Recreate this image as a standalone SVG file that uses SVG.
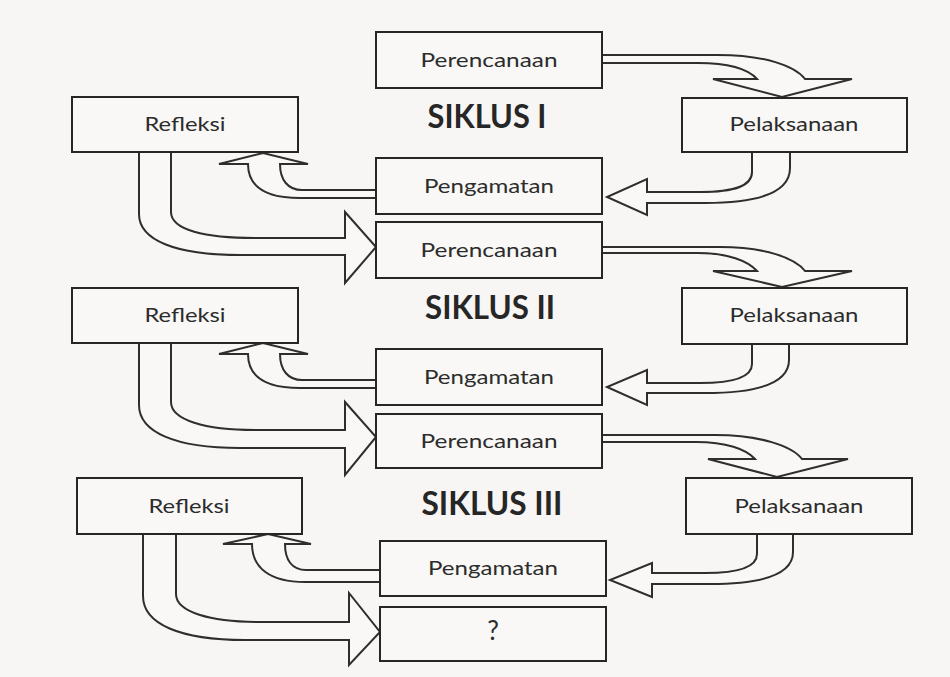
<svg xmlns="http://www.w3.org/2000/svg" width="950" height="677" viewBox="0 0 950 677">
<style>
.bg{fill:#f7f6f4}
.box{fill:#f9f8f6;stroke:#262626;stroke-width:2}
.arr{fill:#f9f8f6;stroke:#2e2e2e;stroke-width:2;stroke-linejoin:miter}
.lbl{font-family:Lato,"Open Sans","Liberation Sans",sans-serif;font-size:20px;fill:#2c2c2c;text-anchor:middle}
.cyc{font-family:Lato,"Open Sans","Liberation Sans",sans-serif;font-size:32px;font-weight:bold;fill:#262626;text-anchor:middle}
</style>
<rect class="bg" x="0" y="0" width="950" height="677"/>
<g id="connectors">
<path class="arr" d="M602,55 L718,55 C765,55 795,66 805,79 L852,79 L782,97 L713,79 L757,79 C748,69 728,63 698,63 L602,63 Z"/>
<path class="arr" d="M752,152 L752,172 C752,186 735,192 700,192 L647,192 L647,179 L607,197 L647,215 L647,203 L705,203 C765,203 790,190 790,168 L790,152 Z"/>
<path class="arr" d="M376,190 L302,190 C288,190 280,180 280,164 L308,164 L263,153 L219,164 L248,164 C248,187 266,198 300,198 L376,198 Z"/>
<path class="arr" d="M139,152 L139,214 C139,240 175,255 240,255 L345,255 L345,283 L376,247 L345,212 L345,238 L255,238 C205,238 171,230 171,212 L171,152 Z"/>
<path class="arr" d="M602,247 L720,247 C765,247 795,258 805,271 L852,271 L782,287 L713,271 L757,271 C748,261 728,253 698,253 L602,253 Z"/>
<path class="arr" d="M752,344 L752,364 C752,377 735,383 700,383 L647,383 L647,370 L607,387 L647,405 L647,393 L705,393 C765,393 789,381 789,360 L789,344 Z"/>
<path class="arr" d="M376,380 L302,380 C288,380 280,370 280,354 L308,354 L263,343 L219,354 L248,354 C248,377 266,388 300,388 L376,388 Z"/>
<path class="arr" d="M139,343 L139,405 C139,432 175,448 240,448 L345,448 L345,475 L376,437 L345,402 L345,430 L255,430 C205,430 171,420 171,402 L171,343 Z"/>
<path class="arr" d="M602,435 L715,435 C760,435 792,446 802,459 L848,459 L777,477 L708,459 L755,459 C746,449 726,442 696,442 L602,442 Z"/>
<path class="arr" d="M757,534 L757,554 C757,567 740,573 705,573 L652,573 L652,563 L610,580 L652,597 L652,584 L710,584 C770,584 793,572 793,552 L793,534 Z"/>
<path class="arr" d="M380,570 L306,570 C292,570 285,560 285,544 L311,544 L268,534 L223,544 L252,544 C252,568 270,582 305,582 L380,582 Z"/>
<path class="arr" d="M143,534 L143,596 C143,624 180,640 245,640 L349,640 L349,665 L380,632 L349,593 L349,622 L260,622 C210,622 176,612 176,594 L176,534 Z"/>
</g>
<g id="perencanaan1"><rect class="box" x="376" y="32" width="226" height="56"/><text class="lbl" x="489" y="67" textLength="137" lengthAdjust="spacingAndGlyphs">Perencanaan</text></g>
<g id="refleksi1"><rect class="box" x="72" y="97" width="226" height="55"/><text class="lbl" x="185" y="131" textLength="81" lengthAdjust="spacingAndGlyphs">Refleksi</text></g>
<g id="pelaksanaan1"><rect class="box" x="682" y="98" width="225" height="54"/><text class="lbl" x="794" y="131" textLength="129" lengthAdjust="spacingAndGlyphs">Pelaksanaan</text></g>
<g id="pengamatan1"><rect class="box" x="376" y="158" width="226" height="56"/><text class="lbl" x="489" y="193" textLength="130" lengthAdjust="spacingAndGlyphs">Pengamatan</text></g>
<g id="siklus1"><text class="cyc" x="487" y="128" textLength="119" lengthAdjust="spacingAndGlyphs">SIKLUS I</text></g>
<g id="perencanaan2"><rect class="box" x="376" y="222" width="226" height="56"/><text class="lbl" x="489" y="257" textLength="137" lengthAdjust="spacingAndGlyphs">Perencanaan</text></g>
<g id="refleksi2"><rect class="box" x="72" y="288" width="226" height="55"/><text class="lbl" x="185" y="322" textLength="81" lengthAdjust="spacingAndGlyphs">Refleksi</text></g>
<g id="pelaksanaan2"><rect class="box" x="682" y="288" width="225" height="56"/><text class="lbl" x="794" y="322" textLength="129" lengthAdjust="spacingAndGlyphs">Pelaksanaan</text></g>
<g id="pengamatan2"><rect class="box" x="376" y="349" width="226" height="56"/><text class="lbl" x="489" y="384" textLength="130" lengthAdjust="spacingAndGlyphs">Pengamatan</text></g>
<g id="siklus2"><text class="cyc" x="490" y="319" textLength="130" lengthAdjust="spacingAndGlyphs">SIKLUS II</text></g>
<g id="perencanaan3"><rect class="box" x="376" y="414" width="226" height="54"/><text class="lbl" x="489" y="448" textLength="137" lengthAdjust="spacingAndGlyphs">Perencanaan</text></g>
<g id="refleksi3"><rect class="box" x="77" y="478" width="225" height="56"/><text class="lbl" x="189" y="513" textLength="81" lengthAdjust="spacingAndGlyphs">Refleksi</text></g>
<g id="pelaksanaan3"><rect class="box" x="686" y="478" width="226" height="56"/><text class="lbl" x="799" y="513" textLength="129" lengthAdjust="spacingAndGlyphs">Pelaksanaan</text></g>
<g id="pengamatan3"><rect class="box" x="380" y="541" width="226" height="55"/><text class="lbl" x="493" y="575" textLength="130" lengthAdjust="spacingAndGlyphs">Pengamatan</text></g>
<g id="siklus3"><text class="cyc" x="492" y="515" textLength="141" lengthAdjust="spacingAndGlyphs">SIKLUS III</text></g>
<g id="next"><rect class="box" x="380" y="607" width="226" height="54"/><text class="lbl" x="493" y="640" style="font-size:26px">?</text></g>
</svg>
